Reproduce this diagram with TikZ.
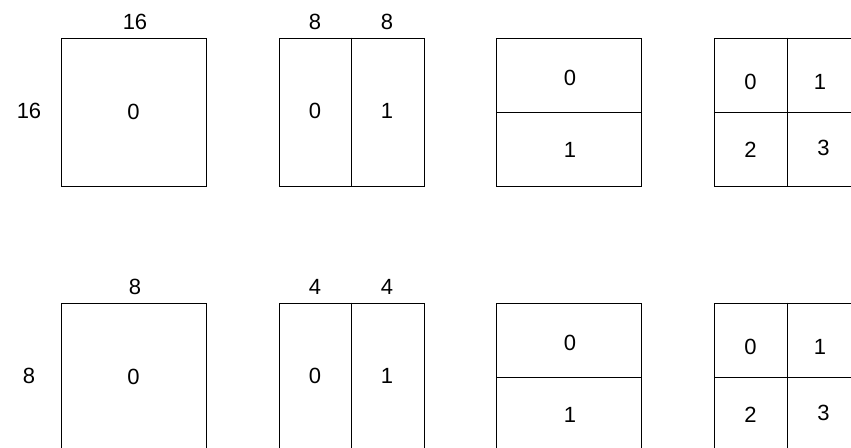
\documentclass[tikz,border=0pt]{standalone}
\usepackage{fontspec}
\setmainfont{Liberation Sans}
\begin{document}
\begin{tikzpicture}[x=1pt,y=-1pt,
  box/.style={draw=black,line width=1pt,inner sep=0pt,minimum height=148pt},
  wbox/.style={box,minimum width=145pt},
  qbox/.style={box,minimum width=146pt},
  div/.style={draw=black,line width=1pt},
  lbl/.style={inner sep=0pt,font=\fontsize{22}{26}\selectfont}]
\useasboundingbox (0,0) rectangle (851,447);
\clip (0,0) rectangle (851,447);
\foreach \r/\dy/\big/\small in {t/0/16/8, b/265/8/4}{
  % box 1
  \node[wbox] (\r1) at (133.5,112+\dy) {};
  \node[lbl] (\r1l) at (133.5,112+\dy) {0};
  \node[lbl] (\r1top) at (135,22+\dy) {\big};
  \node[lbl] (\r1side) at (29,111+\dy) {\big};
  % box 2
  \node[wbox] (\r2) at (351.5,112+\dy) {};
  \draw[div] (\r2.north) -- (\r2.south);
  \node[lbl] (\r2a) at (315,111+\dy) {0};
  \node[lbl] (\r2b) at (387,111+\dy) {1};
  \node[lbl] (\r2ta) at (315,22+\dy) {\small};
  \node[lbl] (\r2tb) at (387,22+\dy) {\small};
  % box 3
  \node[wbox] (\r3) at (569.3,112+\dy) {};
  \draw[div] (\r3.west) -- (\r3.east);
  \node[lbl] (\r3a) at (570,78+\dy) {0};
  \node[lbl] (\r3b) at (570,150+\dy) {1};
  % box 4
  \node[qbox] (\r4) at (787.3,112+\dy) {};
  \draw[div] (\r4.north) -- (\r4.south);
  \draw[div] (\r4.west) -- (\r4.east);
  \node[lbl] (\r4a) at (750.5,82+\dy) {0};
  \node[lbl] (\r4b) at (820,82+\dy) {1};
  \node[lbl] (\r4c) at (750.5,150+\dy) {2};
  \node[lbl] (\r4d) at (823.5,148+\dy) {3};
}
\end{tikzpicture}
\end{document}
